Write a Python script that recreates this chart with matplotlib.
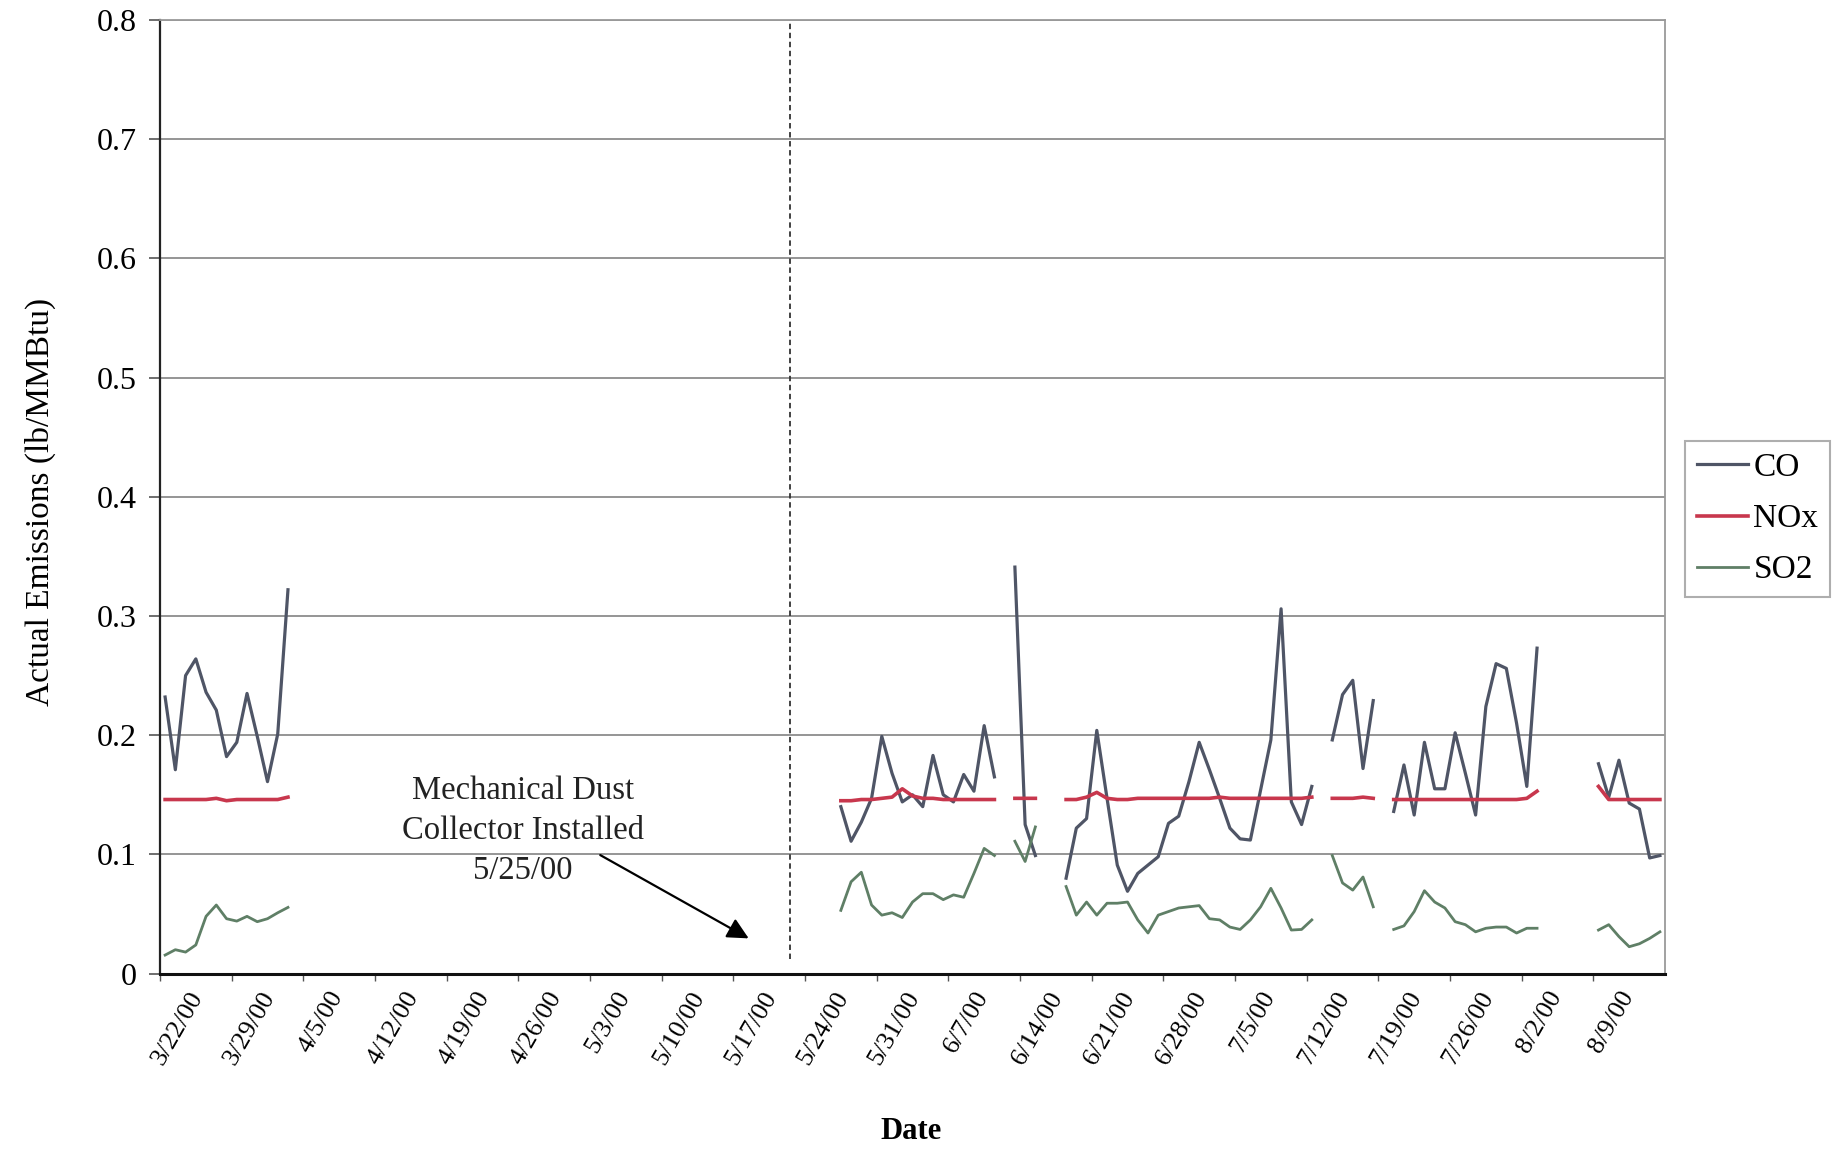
import numpy as np
import pandas as pd
import matplotlib
matplotlib.use("Agg")
import matplotlib.pyplot as plt
import matplotlib.transforms as mtransforms

# ---------------------------------------------------------------- data
# Daily averages; each run of days starts on the matching date below.
segment_starts = ["2000-03-22", "2000-05-27", "2000-06-13", "2000-06-18",
                  "2000-07-14", "2000-07-20", "2000-08-09"]

co_segments = [
    [0.232, 0.171, 0.250, 0.264, 0.236, 0.221, 0.182, 0.194, 0.235, 0.199, 0.161, 0.201, 0.322],
    [0.140, 0.111, 0.127, 0.147, 0.199, 0.168, 0.144, 0.150, 0.140, 0.183, 0.150, 0.144,
     0.167, 0.153, 0.208, 0.165],
    [0.341, 0.125, 0.099],
    [0.080, 0.122, 0.130, 0.204, 0.147, 0.091, 0.069, 0.084, 0.091, 0.098, 0.126, 0.132,
     0.161, 0.194, 0.171, 0.147, 0.122, 0.113, 0.112, 0.154, 0.196, 0.306, 0.144, 0.125, 0.157],
    [0.196, 0.234, 0.246, 0.172, 0.229],
    [0.136, 0.175, 0.133, 0.194, 0.155, 0.155, 0.202, 0.168, 0.133, 0.224, 0.260, 0.256,
     0.210, 0.157, 0.273],
    [0.176, 0.148, 0.179, 0.143, 0.138, 0.097, 0.099],
]

nox_segments = [
    [0.146, 0.146, 0.146, 0.146, 0.146, 0.147, 0.145, 0.146, 0.146, 0.146, 0.146, 0.146, 0.148],
    [0.145, 0.145, 0.146, 0.146, 0.147, 0.148, 0.155, 0.149, 0.147, 0.147, 0.146, 0.146,
     0.146, 0.146, 0.146, 0.146],
    [0.147, 0.147, 0.147],
    [0.146, 0.146, 0.148, 0.152, 0.147, 0.146, 0.146, 0.147, 0.147, 0.147, 0.147, 0.147,
     0.147, 0.147, 0.147, 0.148, 0.147, 0.147, 0.147, 0.147, 0.147, 0.147, 0.147, 0.147, 0.148],
    [0.147, 0.147, 0.147, 0.148, 0.147],
    [0.146, 0.146, 0.146, 0.146, 0.146, 0.146, 0.146, 0.146, 0.146, 0.146, 0.146, 0.146,
     0.146, 0.147, 0.153],
    [0.157, 0.146, 0.146, 0.146, 0.146, 0.146, 0.146],
]

so2_segments = [
    [0.0155, 0.020, 0.018, 0.024, 0.048, 0.0575, 0.046, 0.044, 0.048, 0.0435, 0.046, 0.051, 0.0555],
    [0.053, 0.077, 0.085, 0.0575, 0.049, 0.051, 0.047, 0.060, 0.067, 0.067, 0.062, 0.066,
     0.064, 0.084, 0.105, 0.099],
    [0.111, 0.094, 0.123],
    [0.073, 0.049, 0.060, 0.049, 0.059, 0.059, 0.060, 0.045, 0.034, 0.049, 0.052, 0.055,
     0.056, 0.057, 0.046, 0.045, 0.039, 0.037, 0.045, 0.056, 0.0715, 0.055, 0.0365, 0.037, 0.045],
    [0.099, 0.076, 0.070, 0.081, 0.056],
    [0.037, 0.040, 0.052, 0.0695, 0.060, 0.055, 0.0435, 0.041, 0.035, 0.038, 0.039, 0.039,
     0.034, 0.038, 0.038],
    [0.0365, 0.041, 0.031, 0.0225, 0.025, 0.0295, 0.035],
]

series_names = ["CO", "NOx", "SO2"]
series_colors = ["#4f5566", "#c8374d", "#5f7f66"]

tick_dates = pd.date_range("2000-03-22", "2000-08-09", freq="7D")
tick_labels = [f"{d.month}/{d.day}/00" for d in tick_dates]
y_ticks = [0, 0.1, 0.2, 0.3, 0.4, 0.5, 0.6, 0.7, 0.8]
y_tick_labels = ["0", "0.1", "0.2", "0.3", "0.4", "0.5", "0.6", "0.7", "0.8"]

install_line_date = pd.Timestamp("2000-05-22 12:00")
note_text = "Mechanical Dust\nCollector Installed\n5/25/00"


def assemble(segments):
    days = pd.date_range("2000-03-22", "2000-08-15", freq="D")
    s = pd.Series(np.nan, index=days)
    for start, vals in zip(segment_starts, segments):
        s.loc[pd.date_range(start, periods=len(vals), freq="D")] = vals
    return s


# ---------------------------------------------------------------- figure
plt.rcParams["font.family"] = ["Liberation Serif", "DejaVu Serif"]
fig = plt.figure(figsize=(18.39, 11.49), dpi=100)
ax = fig.add_axes([0.0870, 0.1527, 0.9054 - 0.0870, 0.9826 - 0.1527])

series = [assemble(co_segments), assemble(nox_segments), assemble(so2_segments)]
widths = [2.3, 2.6, 2.0]
handles = []
for s, name, col, lw in zip(series, series_names, series_colors, widths):
    x = s.index + pd.Timedelta(hours=12)   # each daily value sits mid-day
    (ln,) = ax.plot(x, s.values, color=col, lw=lw, label=name, zorder=3)
    handles.append(ln)

ax.set_xlim(pd.Timestamp("2000-03-22"), pd.Timestamp("2000-08-16"))
ax.set_ylim(0, 0.8)

ax.set_yticks(y_ticks)
ax.set_yticklabels(y_tick_labels)
ax.set_xticks(tick_dates)
ax.set_xticklabels(tick_labels, rotation=60, ha="center", va="top")

ax.tick_params(axis="y", labelsize=23, length=8, width=1.2, pad=9, color="#555555")
ax.tick_params(axis="x", labelsize=19, length=5, width=1.0, pad=5, color="#555555")

# nudge the slanted date labels to the right of their ticks
shift = mtransforms.ScaledTranslation(18 / 100, 0, fig.dpi_scale_trans)
for lbl in ax.get_xticklabels():
    lbl.set_transform(lbl.get_transform() + shift)

ax.yaxis.grid(True, color="#8c8c8c", lw=1.3)
ax.set_axisbelow(True)
for side in ["top", "right"]:
    ax.spines[side].set_color("#9a9a9a")
    ax.spines[side].set_linewidth(1.3)
ax.spines["left"].set_color("#222222")
ax.spines["left"].set_linewidth(1.6)
ax.spines["bottom"].set_color("#111111")
ax.spines["bottom"].set_linewidth(2.2)

# installation marker
ax.plot([install_line_date, install_line_date], [0.012, 0.8],
        ls=(0, (3, 2)), color="#333333", lw=1.3, zorder=2)

ax.text(pd.Timestamp("2000-04-26 10:00"), 0.120, note_text, ha="center", va="center",
        fontsize=23.5, linespacing=1.4, color="#222222", zorder=4)
ax.annotate("", xy=(pd.Timestamp("2000-05-18 12:00"), 0.0295),
            xytext=(pd.Timestamp("2000-05-04 00:00"), 0.0994),
            arrowprops=dict(arrowstyle="-|>", color="black", lw=1.6,
                            mutation_scale=32, shrinkA=0, shrinkB=0))

fig.text(0.4954, 0.0148, "Date", ha="center", va="center", fontsize=22, fontweight="bold")
fig.text(0.022, 0.563, "Actual Emissions (lb/MMBtu)", ha="center", va="center",
         rotation=90, fontsize=24)

leg = fig.legend(handles=handles, loc="upper left", bbox_to_anchor=(0.9163, 0.6162),
                 bbox_transform=fig.transFigure, borderaxespad=0, fontsize=24,
                 frameon=True, fancybox=False, edgecolor="#9a9a9a",
                 handlelength=1.55, handletextpad=0.15, labelspacing=0.62,
                 borderpad=0.35)
leg.get_frame().set_linewidth(1.5)

fig.savefig("out.png", dpi=100, facecolor="white")
